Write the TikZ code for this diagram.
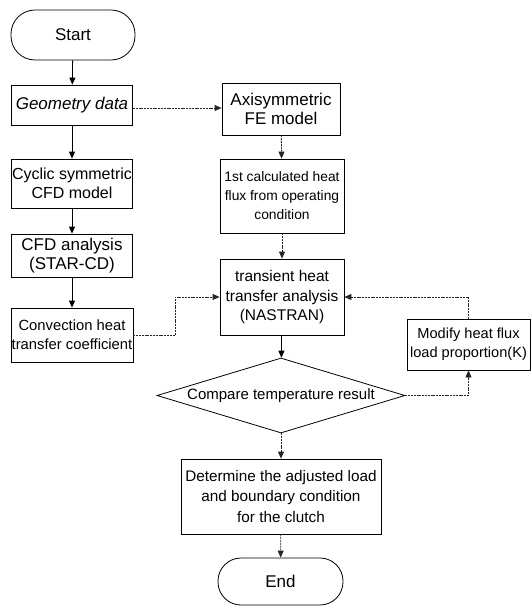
\documentclass[tikz,border=0pt]{standalone}
\usepackage{fontspec}
\setmainfont{Liberation Sans}
\usetikzlibrary{shapes.geometric,arrows.meta}
\begin{document}
\begin{tikzpicture}[x=1pt,y=-1pt,
  box/.style={draw,line width=0.8pt,rectangle,inner sep=0pt,align=center},
  term/.style={box,rounded corners=24pt},
  dec/.style={draw,line width=0.8pt,diamond,inner sep=0pt},
  conn/.style={line width=0.8pt,-{Triangle[length=7pt,width=6pt]}},
  dconn/.style={conn,dash pattern=on 2pt off 0.8pt,draw=black!85}
]
\useasboundingbox (0,0) rectangle (532,608);
\node[term,minimum width=124pt,minimum height=50pt,font=\fontsize{17}{19}\selectfont] (start) at (73,35) {Start};
\node[box,minimum width=121pt,minimum height=40pt,font=\fontsize{17}{19}\selectfont\itshape] (geo) at (72,105) {Geometry data};
\node[box,minimum width=121pt,minimum height=49pt,font=\fontsize{16}{19}\selectfont] (cyc) at (72,183.5) {Cyclic symmetric\\CFD model};
\node[box,minimum width=121pt,minimum height=43pt,font=\fontsize{17}{19.5}\selectfont] (cfd) at (72,255.5) {CFD analysis\\(STAR-CD)};
\node[box,minimum width=122pt,minimum height=54pt,font=\fontsize{14.8}{19}\selectfont] (conv) at (72,335) {Convection heat\\transfer coefficient};
\node[box,minimum width=118pt,minimum height=52pt,font=\fontsize{17}{18.5}\selectfont] (axi) at (281,109) {Axisymmetric\\FE model};
\node[box,minimum width=124pt,minimum height=74pt,font=\fontsize{13.8}{19}\selectfont] (first) at (282,196) {1st calculated heat\\flux from operating\\condition};
\node[box,minimum width=124pt,minimum height=76pt,font=\fontsize{15.5}{19.5}\selectfont] (trans) at (282,297) {transient heat\\transfer analysis\\(NASTRAN)};
\node[dec,minimum width=248pt,minimum height=75pt] (cmp) at (281,395.5) {};
\node[font=\fontsize{15}{18}\selectfont,inner sep=0pt] (cmptxt) at (281,395.5) {Compare temperature result};
\node[box,minimum width=123pt,minimum height=51pt,font=\fontsize{14.6}{19}\selectfont] (mod) at (468.5,344.5) {Modify heat flux\\load proportion(K)};
\node[box,minimum width=200pt,minimum height=75pt,font=\fontsize{15.3}{20.8}\selectfont] (det) at (281,496.5) {Determine the adjusted load\\and boundary condition\\for the clutch};
\node[term,minimum width=125pt,minimum height=47pt,rounded corners=23pt,font=\fontsize{17}{19}\selectfont] (end) at (280.5,581.5) {End};
\draw[conn] (start) -- (geo);
\draw[conn] (geo) -- (cyc);
\draw[conn] (cyc) -- (cfd);
\draw[conn] (cfd) -- (conv);
\draw[dconn] (geo.east |- 0,108) -- (axi.west |- 0,108);
\draw[dconn] (axi) -- (first);
\draw[dconn] (first) -- (trans);
\draw[conn] (trans) -- (cmp);
\draw[dconn] (conv.east) -- (175,335) -- (175,297) -- (trans.west);
\draw[dconn] (cmp.east) -| (mod.south);
\draw[dconn] (mod.north) |- (trans.east);
\draw[dconn] (cmp) -- (det);
\draw[dconn] (det) -- (end);
\end{tikzpicture}
\end{document}
